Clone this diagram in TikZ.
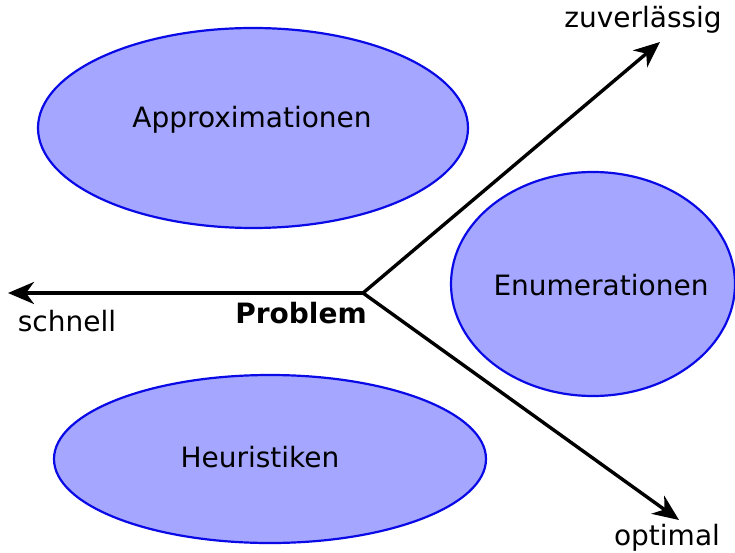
\documentclass[tikz,border=0pt]{standalone}
\usepackage{fontspec}
\setmainfont{DejaVu Sans}
\usetikzlibrary{arrows.meta,shapes.geometric}
\definecolor{efill}{HTML}{A4A6FF}
\definecolor{eedge}{HTML}{0A0AE6}
\tikzset{
  blob/.style={draw=eedge,fill=efill,line width=2.2pt},
  axis/.style={line width=3.4pt,-{Stealth[length=26pt,width=22pt,inset=8pt]}},
  lbl/.style={font=\fontsize{28}{32}\selectfont,inner sep=0pt},
}
\begin{document}
\begin{tikzpicture}[x=1pt,y=-1pt]
\useasboundingbox (0,0) rectangle (735,553);
\filldraw[blob] (253,128) ellipse [x radius=215, y radius=100];
\filldraw[blob] (593,284) ellipse [x radius=142, y radius=112];
\filldraw[blob] (270,459) ellipse [x radius=216, y radius=84];
\node[lbl] (approx) at (252,120) {Approximationen};
\node[lbl] (enum) at (601,285) {Enumerationen};
\node[lbl] (heur) at (260,457) {Heuristiken};
\coordinate (c) at (363,293);
\coordinate (l) at (8,293);
\coordinate (u) at (660,42);
\coordinate (d) at (679,520);
\draw[axis] (c) -- (l);
\draw[axis] (c) -- (u);
\draw[axis] (c) -- (d);
\node[lbl,font=\fontsize{28}{32}\selectfont\bfseries] (prob) at (301,313) {Problem};
\node[lbl] (schnell) at (67,321) {schnell};
\node[lbl] (zuv) at (643,20) {zuverlässig};
\node[lbl] (opt) at (667,538) {optimal};
\end{tikzpicture}
\end{document}
